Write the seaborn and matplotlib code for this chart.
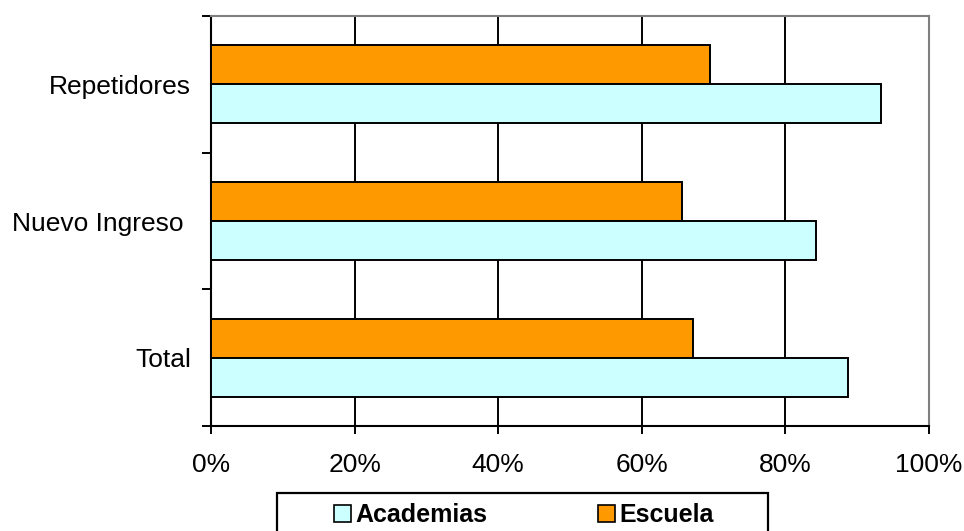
import matplotlib
matplotlib.use("Agg")
import matplotlib.pyplot as plt
import seaborn as sns
import pandas as pd
from matplotlib.ticker import PercentFormatter, FixedLocator
from matplotlib.patches import Patch, Rectangle

categories = ["Repetidores", "Nuevo Ingreso", "Total"]
category_labels = ["Repetidores", "Nuevo Ingreso ", "Total"]
escuela = [69.5, 65.6, 67.2]
academias = [93.3, 84.3, 88.7]
series_names = ["Academias", "Escuela"]
x_ticks = [0, 20, 40, 60, 80, 100]

colors = {"Academias": "#CCFFFF", "Escuela": "#FF9900"}

df = pd.DataFrame({
    "categoria": categories * 2,
    "serie": ["Escuela"] * 3 + ["Academias"] * 3,
    "valor": escuela + academias,
})

sns.set_theme(style="white")
plt.rcParams["font.family"] = ["Liberation Sans", "DejaVu Sans"]
plt.rcParams["text.color"] = "black"

W, H = 964, 531
fig = plt.figure(figsize=(W / 100, H / 100), dpi=100)
ax = fig.add_axes([211 / W, 1 - 426 / H, 718 / W, 410 / H])

sns.barplot(data=df, x="valor", y="categoria", hue="serie", order=categories,
            hue_order=["Escuela", "Academias"], palette=colors, orient="h",
            width=0.57, gap=0, edgecolor="black", linewidth=1.4, legend=False,
            saturation=1, errorbar=None, ax=ax, zorder=3)

ax.set_xlim(0, 100)
ax.set_ylim(2.5, -0.5)
ax.set_xlabel("")
ax.set_ylabel("")
ax.xaxis.set_major_locator(FixedLocator(x_ticks))
ax.xaxis.set_major_formatter(PercentFormatter(100, decimals=0))
ax.set_yticks(range(len(categories)))
ax.set_yticklabels(category_labels)
ax.grid(axis="x", color="black", linewidth=1.4, zorder=0)
ax.set_axisbelow(True)

ax.tick_params(axis="x", which="major", direction="out", length=5.8, width=1.4,
               color="black", labelsize=19, pad=14, bottom=True, labelcolor="black")
ax.tick_params(axis="y", which="major", length=0, labelsize=19, pad=14.5, left=True,
               labelcolor="black")
ax.yaxis.set_minor_locator(FixedLocator([-0.5, 0.5, 1.5, 2.5]))
ax.tick_params(axis="y", which="minor", direction="out", length=6.5, width=1.4,
               color="black", left=True)

for side in ["left", "bottom"]:
    ax.spines[side].set_color("black")
    ax.spines[side].set_linewidth(1.5)
for side in ["top", "right"]:
    ax.spines[side].set_color("#808080")
    ax.spines[side].set_linewidth(1.5)
    ax.spines[side].set_visible(True)

handles = [Patch(facecolor=colors[s], edgecolor="black", linewidth=1.2, label=s)
           for s in series_names]
leg = fig.legend(handles=handles, loc="upper center",
                 bbox_to_anchor=(524 / W, 1 - 503 / H), ncol=2, frameon=False,
                 prop={"family": "Liberation Sans", "weight": "bold", "size": 18},
                 labelcolor="black",
                 handlelength=0.68, handleheight=0.68, handletextpad=0.2,
                 columnspacing=4.4, borderpad=0, borderaxespad=0)
fig.patches.append(Rectangle((277 / W, 1 - 560 / H), 491 / W, 67 / H,
                             transform=fig.transFigure, facecolor="none",
                             edgecolor="black", linewidth=1.6))

fig.savefig("out.png", dpi=100)
